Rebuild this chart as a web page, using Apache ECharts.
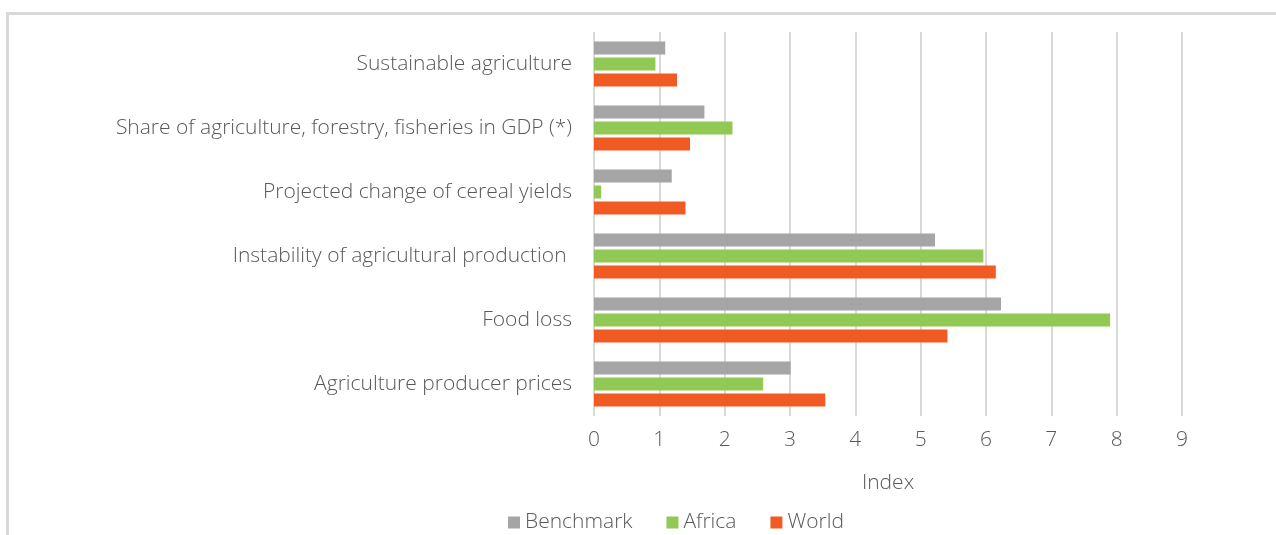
<!DOCTYPE html>
<html>
<head>
<meta charset="utf-8">
<script src="https://cdn.jsdelivr.net/npm/echarts@6/dist/echarts.min.js"></script>
<style>
  html, body { margin: 0; padding: 0; background: #fff; }
  #wrap { position: relative; width: 1276px; height: 535px; overflow: hidden; }
  #frame { position: absolute; left: 6px; top: 12px; width: 1400px; height: 600px;
           border-top: 3px solid #d9d9d9; border-left: 3px solid #d9d9d9; }
  #chart { position: absolute; left: 0; top: 0; width: 1276px; height: 535px; }
</style>
</head>
<body>
<div id="wrap">
  <div id="frame"></div>
  <div id="chart"></div>
</div>
<script>
// categories, bottom to top
const categories = [
  "Agriculture producer prices",
  "Food loss",
  "Instability of agricultural production ",
  "Projected change of cereal yields",
  "Share of agriculture, forestry, fisheries in GDP (*)",
  "Sustainable agriculture"
];
const benchmark = [3.01, 6.23, 5.22, 1.19, 1.69, 1.09];
const africa    = [2.59, 7.90, 5.96, 0.11, 2.12, 0.94];
const world     = [3.54, 5.41, 6.15, 1.40, 1.47, 1.27];
const xTicks = [0, 9, 1]; // min, max, interval

const fontFamily = "'Open Sans', Lato, sans-serif";
const textColor = "#595959";

const chart = echarts.init(document.getElementById("chart"), null, { renderer: "canvas" });

const barStyle = (name, data, color) => ({
  name: name,
  type: "bar",
  data: data,
  barWidth: 13,
  barGap: "23%",
  itemStyle: { color: color },
  animation: false
});

const txt = { fontFamily: fontFamily, fontSize: 21, fontWeight: 300, color: textColor };

chart.setOption({
  backgroundColor: "transparent",
  textStyle: { fontFamily: fontFamily, color: textColor },
  grid: { left: 594, right: 94, top: 32, bottom: 119, containLabel: false },
  legend: {
    data: ["Benchmark", "Africa", "World"],
    left: 503,
    top: 507,
    icon: "rect",
    itemWidth: 12,
    itemHeight: 12,
    itemGap: 34,
    textStyle: txt
  },
  xAxis: {
    type: "value",
    min: xTicks[0],
    max: xTicks[1],
    interval: xTicks[2],
    name: "Index",
    nameLocation: "middle",
    nameGap: 57,
    nameTextStyle: txt,
    axisLine: { show: false },
    axisTick: { show: false },
    axisLabel: Object.assign({ margin: 14 }, txt),
    splitLine: { lineStyle: { color: "#d9d9d9", width: 2 } }
  },
  yAxis: {
    type: "category",
    data: categories,
    axisLine: { show: false },
    axisTick: { show: false },
    axisLabel: Object.assign({ margin: 22 }, txt)
  },
  series: [
    barStyle("Benchmark", benchmark, "#a5a5a5"),
    barStyle("Africa", africa, "#92c955"),
    barStyle("World", world, "#f15a22")
  ]
});
</script>
</body>
</html>
